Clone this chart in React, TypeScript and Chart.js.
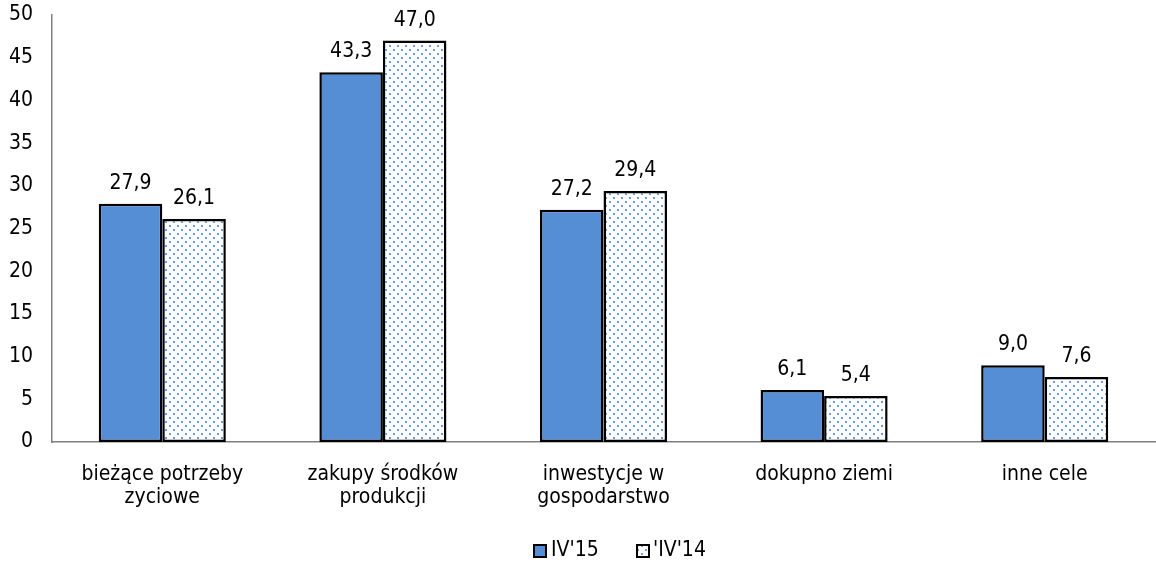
import React, { useEffect, useRef } from "react";
import { Chart, registerables } from "chart.js";

Chart.register(...registerables);

const categories: string[][] = [
  ["bieżące potrzeby", "zyciowe"],
  ["zakupy środków", "produkcji"],
  ["inwestycje w", "gospodarstwo"],
  ["dokupno ziemi"],
  ["inne cele"],
];
const seriesIV15: number[] = [27.9, 43.3, 27.2, 6.1, 9.0];
const seriesIV14: number[] = [26.1, 47.0, 29.4, 5.4, 7.6];
const seriesLabels: string[] = ["IV'15", "'IV'14"];
const yMin = 0;
const yMax = 50;
const yStep = 5;

const FONT = "'DejaVu Sans Condensed', 'DejaVu Sans', Verdana, sans-serif";
const FS = 21;
const BLUE = "#558ED5";

function makeDotPattern(): CanvasPattern | string {
  const c = document.createElement("canvas");
  c.width = 8;
  c.height = 8;
  const ctx = c.getContext("2d");
  if (!ctx) return "#fff";
  ctx.fillStyle = "#ffffff";
  ctx.fillRect(0, 0, 8, 8);
  ctx.fillStyle = "#6a9be0";
  ctx.fillRect(1, 1, 2, 2);
  ctx.fillRect(5, 5, 2, 2);
  const p = ctx.createPattern(c, "repeat");
  return p || "#fff";
}

const valueLabelPlugin = {
  id: "valueLabels",
  afterDatasetsDraw(chart: any) {
    const ctx = chart.ctx;
    ctx.save();
    ctx.font = `${FS}px ${FONT}`;
    ctx.fillStyle = "#000";
    ctx.textAlign = "center";
    ctx.textBaseline = "alphabetic";
    chart.data.datasets.forEach((ds: any, di: number) => {
      const meta = chart.getDatasetMeta(di);
      meta.data.forEach((bar: any, i: number) => {
        const v = ds.data[i] as number;
        ctx.fillText(v.toFixed(1).replace(".", ","), bar.x, bar.y - 15);
      });
    });
    ctx.restore();
  },
};

const customLegendPlugin = {
  id: "customLegend",
  afterDraw(chart: any) {
    const ctx = chart.ctx;
    ctx.save();
    ctx.font = `${FS}px ${FONT}`;
    ctx.textBaseline = "middle";
    ctx.textAlign = "left";
    const cy = 551;
    const items = [
      { x: 534, textX: 551 },
      { x: 637, textX: 653 },
    ];
    chart.data.datasets.forEach((ds: any, di: number) => {
      const it = items[di];
      ctx.fillStyle = ds.backgroundColor;
      ctx.fillRect(it.x, cy - 6, 12, 12);
      ctx.lineWidth = 2;
      ctx.strokeStyle = "#000";
      ctx.strokeRect(it.x, cy - 6, 12, 12);
      ctx.fillStyle = "#000";
      ctx.fillText(ds.label, it.textX, cy);
    });
    ctx.restore();
  },
};

export default function App() {
  const ref = useRef<HTMLCanvasElement>(null);
  useEffect(() => {
    if (!ref.current) return;
    const pattern = makeDotPattern();
    const chart = new Chart(ref.current, {
      type: "bar",
      data: {
        labels: categories,
        datasets: [
          {
            label: seriesLabels[0],
            data: seriesIV15,
            backgroundColor: BLUE,
            borderColor: "#000",
            borderWidth: 2.5,
            borderSkipped: false,
          },
          {
            label: seriesLabels[1],
            data: seriesIV14,
            backgroundColor: pattern as any,
            borderColor: "#000",
            borderWidth: 2.5,
            borderSkipped: false,
          },
        ],
      },
      options: {
        animation: false,
        responsive: false,
        maintainAspectRatio: false,
        datasets: { bar: { barPercentage: 1, categoryPercentage: 0.576 } },
        layout: { padding: { top: 0, right: 1, left: 0, bottom: 0 } },
        scales: {
          y: {
            min: yMin,
            max: yMax,
            ticks: {
              stepSize: yStep,
              color: "#000",
              font: { family: FONT, size: FS },
              padding: 19,
            },
            grid: { display: false, drawTicks: false },
            border: { display: true, color: "#7f7f7f", width: 1.5 },
            afterFit: (s: any) => {
              s.width = 52;
              s.paddingTop = 15;
              s.paddingBottom = 0;
            },
          },
          x: {
            ticks: {
              color: "#000",
              font: { family: FONT, size: FS, lineHeight: 1.05 },
              padding: 22,
              maxRotation: 0,
              autoSkip: false,
            },
            grid: { display: false, drawTicks: false },
            border: { display: true, color: "#7f7f7f", width: 1.5 },
            afterFit: (s: any) => {
              s.height = 567 - 442;
              s.paddingLeft = 0;
              s.paddingRight = 0;
            },
          },
        },
        plugins: {
          legend: { display: false },
          tooltip: { enabled: false },
        },
      },
      plugins: [valueLabelPlugin, customLegendPlugin],
    });
    return () => chart.destroy();
  }, []);
  return (
    <div style={{ position: "fixed", left: 0, top: 0, width: 1156, height: 567, background: "#fff" }}>
      <canvas ref={ref} width={1156} height={567} />
    </div>
  );
}
